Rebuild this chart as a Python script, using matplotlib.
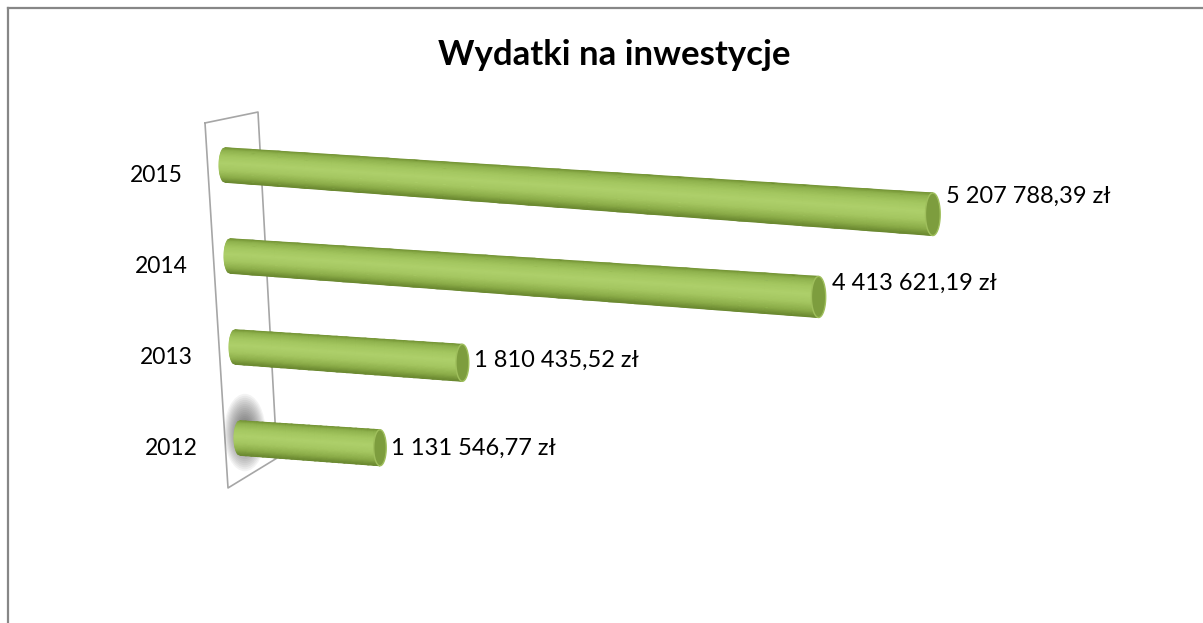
import numpy as np
import matplotlib
matplotlib.use("Agg")
import matplotlib.pyplot as plt
from matplotlib.colors import LinearSegmentedColormap
from matplotlib.patches import Polygon, Ellipse
from matplotlib.lines import Line2D

years = ["2012", "2013", "2014", "2015"]
values = [1131546.77, 1810435.52, 4413621.19, 5207788.39]
title = "Wydatki na inwestycje"

# fake-3D projection constants (axes x in millions, y in category index)
PX_M = 120.7             # px per million at the wall
K = 0.0215               # perspective growth of lengths towards the viewer
KR = 0.036               # ...and of the cylinder thickness
TILT = 8.4 / 91          # downward slope of the bars
SHEAR = 5 / PX_M         # wall leans a bit to the right going down
R = 0.19                 # cylinder radius at the wall (category units)
EW = 6.0 / PX_M          # half-width of the end ellipses

shade = LinearSegmentedColormap.from_list("cyl", [
    (0.00, "#759536"), (0.08, "#90b34e"), (0.25, "#a4c760"), (0.45, "#aed06b"),
    (0.65, "#a5c761"), (0.85, "#8cad49"), (1.00, "#6a8830")])


def proj(v, c, dx=0.0, off=0.0):
    m = np.asarray(v, dtype=float) / 1e6
    s = 1 / (1 - K * m)
    sr = 1 / (1 - KR * m)
    return m * s - SHEAR * c + dx * sr, c - TILT * m * s + off * sr


def fmt(v):
    return f"{v:,.2f}".replace(",", " ").replace(".", ",") + " zł"


plt.rcParams["font.family"] = ["Lato", "DejaVu Sans"]
fig = plt.figure(figsize=(12.03, 6.23), dpi=100)
ax = fig.add_axes([0, 0, 1, 1])
ax.set_xlim(-240 / PX_M, 963 / PX_M)
ax.set_ylim(-185 / 91, 438 / 91)
ax.axis("off")

# side wall
wall_x = [-0.290, 0.149, 0.307, -0.0994, -0.290]
wall_y = [3.462, 3.582, -0.220, -0.549, 3.462]
ax.plot(wall_x, wall_y, color="#a6a6a6", lw=1.2, zorder=1)

t = np.linspace(-1, 1, 31)                  # across the cylinder, top -> bottom
for c, (yr, v) in enumerate(zip(years, values)):
    if c == 0:
        # soft shadow of the first bar's base on the wall
        sx, sy = proj(0, c, 0.04, 0.06)
        for k in range(14):
            f = 1.15 - k * 0.06
            ax.add_patch(Ellipse((float(sx), float(sy)), 0.30 * f, 0.74 * f,
                                 color="#3a3a3a", alpha=0.06, lw=0, zorder=2))
    u = np.linspace(0, v, 25)
    U, T = np.meshgrid(u, t, indexing="ij")
    DX = np.zeros_like(U)
    DX[0] = -EW * np.sqrt(np.clip(1 - t ** 2, 0, 1))   # rounded far end
    X, Y = proj(U, c, DX, -T * R)
    ax.pcolormesh(X, Y, (T + 1) / 2, cmap=shade, vmin=0, vmax=1,
                  shading="gouraud", zorder=3)
    th = np.linspace(0, 2 * np.pi, 90)
    cx, cy = proj(np.full_like(th, v), c, EW * np.cos(th), R * np.sin(th))
    ax.add_patch(Polygon(np.column_stack([cx, cy]), closed=True, fc="#7d9d3e",
                         ec="#9fbf5c", lw=1.0, zorder=4))
    lx, _ = proj(v, c, EW + 5 / PX_M)
    m = v / 1e6
    ly = c - (4.8 + 4.6 * m / (1 - K * m)) / 91
    ax.text(float(lx), ly, fmt(v), ha="left", va="center", fontsize=17,
            color="black", zorder=5)
    ax.text(-42 / PX_M - SHEAR * c, c - 0.11, yr, ha="right", va="center",
            fontsize=16.5, color="black")

fig.text(614.5 / 1203, 1 - 55 / 623, title, ha="center", va="center",
         fontsize=25, fontweight="bold")

# chart frame (cut by the page on the right and bottom)
fig.add_artist(Line2D([8 / 1203, 8 / 1203], [0, 1 - 8 / 623], color="#878787", lw=1.6))
fig.add_artist(Line2D([8 / 1203, 1], [1 - 8 / 623, 1 - 8 / 623], color="#878787", lw=1.6))

fig.savefig("out.png", dpi=100)
